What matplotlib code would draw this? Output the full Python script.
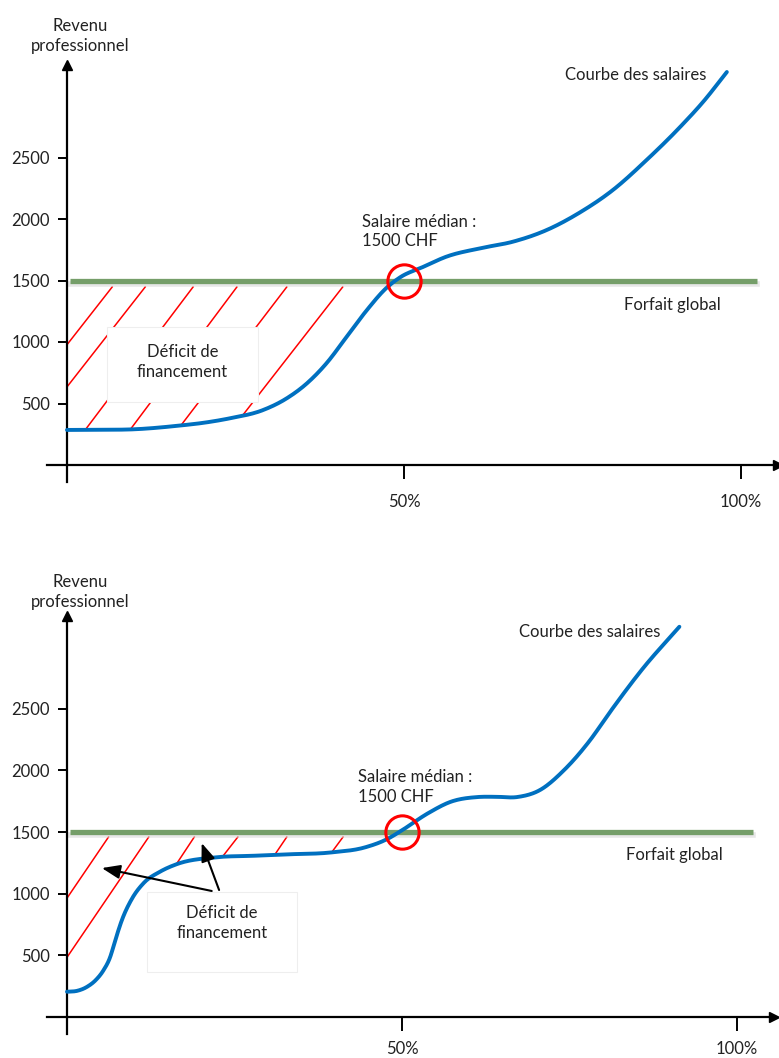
import numpy as np
import matplotlib
matplotlib.use("Agg")
import matplotlib.pyplot as plt
from matplotlib.patches import Rectangle

plt.rcParams['font.family'] = ['Lato', 'DejaVu Sans']

# courbe des salaires, panneau du haut (x en %, y en CHF)
top_x = [0, 5, 9.8, 16.6, 20.5, 24.2, 29.1, 32.6, 35.6, 38.5, 41.5, 44.5, 47.4, 49.4, 52.9, 56.3, 61.3, 66.2, 71.2, 76, 81, 86, 91, 94.5, 97.9]
top_y = [285, 286, 290, 320, 345, 380, 447, 542, 664, 827, 1043, 1260, 1440, 1525, 1612, 1694, 1762, 1816, 1911, 2050, 2236, 2480, 2750, 2960, 3195]

# courbe des salaires, panneau du bas
bot_x = [0, 1.5, 3, 4.3, 5.4, 6.4, 7.3, 8.2, 9.7, 11.4, 13.9, 16.4, 22.2, 28, 32.1, 39.5, 44.5, 48, 49.9, 53.9, 57.3, 61.3, 64, 67.2, 70.6, 74.2, 78, 81, 86, 91.4]
bot_y = [205, 212, 245, 300, 375, 480, 640, 787, 960, 1084, 1179, 1240, 1295, 1308, 1318, 1335, 1376, 1449, 1511, 1653, 1746, 1784, 1786, 1784, 1841, 2003, 2240, 2470, 2830, 3165]

forfait = 1500
median_x = 50
yticks = [500, 1000, 1500, 2000, 2500]
xticks = [50, 100]
xticklabels = ['50%', '100%']

# hachures : x (%) du haut et du bas de chaque trait
top_hatch_hi = [6.7, 11.6, 18.7, 25.2, 32.6, 40.9]
top_hatch_lo = [0, 0, 2.7, 9.4, 16.9, 26.0]
bot_hatch_hi = [6.2, 12.2, 19.0, 25.5, 32.8, 41.2]
bot_hatch_lo = [0, 0, 16.3, 23.2, 31.0, 39.5]

blue = '#0070c0'
green = '#759e69'
red = '#ff0000'
txt = '#222222'

fig = plt.figure(figsize=(7.79, 10.58), dpi=100)

# pixel -> data mapping for each panel
ax1 = fig.add_axes([0, 0.5, 1, 0.5])
ax1.set_xlim((0 - 67) / 6.74, (779 - 67) / 6.74)
ax1.set_ylim((465 - 529) / 0.123, 465 / 0.123)

ax2 = fig.add_axes([0, 0, 1, 0.5])
ax2.set_xlim((0 - 67) / 6.7, (779 - 67) / 6.7)
ax2.set_ylim((1017 - 1058) / 0.1233, (1017 - 529) / 0.1233)


def smooth_curve(px, py, n=25):
    # cubic Hermite through the points, tangents from 3-point differences
    x = np.asarray(px, float)
    y = np.asarray(py, float)
    h = np.diff(x)
    d = np.diff(y) / h
    m = np.empty_like(y)
    m[0] = d[0]
    m[-1] = d[-1]
    m[1:-1] = (d[:-1] * h[1:] + d[1:] * h[:-1]) / (h[:-1] + h[1:])
    xs, ys = [], []
    t = np.linspace(0, 1, n, endpoint=False)
    for i in range(len(x) - 1):
        h00 = 2 * t ** 3 - 3 * t ** 2 + 1
        h10 = t ** 3 - 2 * t ** 2 + t
        h01 = -2 * t ** 3 + 3 * t ** 2
        h11 = t ** 3 - t ** 2
        xs.append(x[i] + t * h[i])
        ys.append(h00 * y[i] + h10 * h[i] * m[i] + h01 * y[i + 1] + h11 * h[i] * m[i + 1])
    xs.append([x[-1]])
    ys.append([y[-1]])
    return np.concatenate(xs), np.concatenate(ys)


def draw_panel(ax, cx, cy, hatch_hi, hatch_lo, hatch_top, box, box_text_y, top_label_y,
               courbe_pos, median_pos, forfait_pos, xpad, arrows=None):
    ax.patch.set_alpha(0)
    ax.spines['right'].set_visible(False)
    ax.spines['top'].set_visible(False)
    ax.spines['left'].set_position(('data', 0))
    ax.spines['bottom'].set_position(('data', 0))
    ax.spines['left'].set_bounds(-140, 3250)
    ax.spines['bottom'].set_bounds(-3, 105.5)
    for s in ['left', 'bottom']:
        ax.spines[s].set_linewidth(1.6)
        ax.spines[s].set_color('black')
    ax.plot(0, 3250, marker='^', color='black', markersize=7, clip_on=False, zorder=5)
    ax.plot(105.5, 0, marker='>', color='black', markersize=7, clip_on=False, zorder=5)

    ax.set_yticks(yticks)
    ax.set_yticklabels([str(v) for v in yticks])
    ax.set_xticks(xticks)
    ax.set_xticklabels(xticklabels)
    ax.tick_params(axis='y', direction='out', length=6.5, width=1.4, pad=6, labelsize=12, labelcolor=txt)
    ax.tick_params(axis='x', direction='out', length=10, width=1.4, pad=xpad, labelsize=12, labelcolor=txt)

    xs, ys = smooth_curve(cx, cy)

    # traits de hachure rouges
    for x_hi, x_lo in zip(hatch_hi, hatch_lo):
        if x_lo == 0:
            slope = 70 if hatch_top < 1455 else 80
        else:
            slope = (hatch_top - np.interp(x_lo, xs, ys)) / (x_hi - x_lo)
        hx = np.array([x_lo, x_hi])
        hy = hatch_top + slope * (hx - x_hi)
        ax.plot(hx, hy, color=red, lw=1.1, zorder=2)

    # forfait global avec ombre
    ax.plot([0.5, 102.4], [forfait - 25, forfait - 25], color='#d8d8d8', lw=4, alpha=0.6, zorder=2)
    ax.plot([0.5, 102.4], [forfait, forfait], color=green, lw=3.8, zorder=3, solid_capstyle='butt')

    ax.plot(xs, ys, color=blue, lw=2.8, zorder=4, solid_capstyle='round')

    ax.plot(median_x, forfait, marker='o', markersize=24, markerfacecolor='none',
            markeredgecolor=red, markeredgewidth=2.2, zorder=6)

    bx0, by0, bx1, by1 = box
    ax.add_patch(Rectangle((bx0, by0), bx1 - bx0, by1 - by0, facecolor='white',
                           edgecolor='#eeeeee', lw=0.8, zorder=5))
    ax.text((bx0 + bx1) / 2, box_text_y, 'Déficit de\nfinancement', ha='center', va='center',
            fontsize=12, color=txt, linespacing=1.3, zorder=6)

    if arrows:
        for (tx, ty, hx, hy) in arrows:
            ax.annotate('', xy=(hx, hy), xytext=(tx, ty), zorder=6,
                        arrowprops=dict(arrowstyle='-|>,head_length=1.1,head_width=0.42',
                                        color='black', lw=1.5, shrinkA=0, shrinkB=0))

    ax.text(2, top_label_y, 'Revenu\nprofessionnel', ha='center', va='center', fontsize=12,
            color=txt, linespacing=1.3)
    ax.text(courbe_pos[0], courbe_pos[1], 'Courbe des salaires', ha='left', va='center',
            fontsize=12, color=txt)
    ax.text(median_pos[0], median_pos[1], 'Salaire médian :\n1500 CHF', ha='left', va='center',
            fontsize=12, color=txt, linespacing=1.3)
    ax.text(forfait_pos[0], forfait_pos[1], 'Forfait global', ha='left', va='center',
            fontsize=12, color=txt)


draw_panel(ax1, top_x, top_y, top_hatch_hi, top_hatch_lo, 1447,
           box=(5.9, 512, 28.3, 1122), box_text_y=840, top_label_y=3488,
           courbe_pos=(73.9, 3170), median_pos=(43.8, 1898), forfait_pos=(82.6, 1300), xpad=11)
draw_panel(ax2, bot_x, bot_y, bot_hatch_hi, bot_hatch_lo, 1460,
           box=(11.9, 365, 34.3, 1013), box_text_y=760, top_label_y=3447,
           courbe_pos=(67.5, 3122), median_pos=(43.5, 1869), forfait_pos=(83.4, 1310), xpad=7,
           arrows=[(21.6, 1022, 5.2, 1208), (22.7, 1030, 20.1, 1411)])

fig.savefig('out.png', dpi=100)
